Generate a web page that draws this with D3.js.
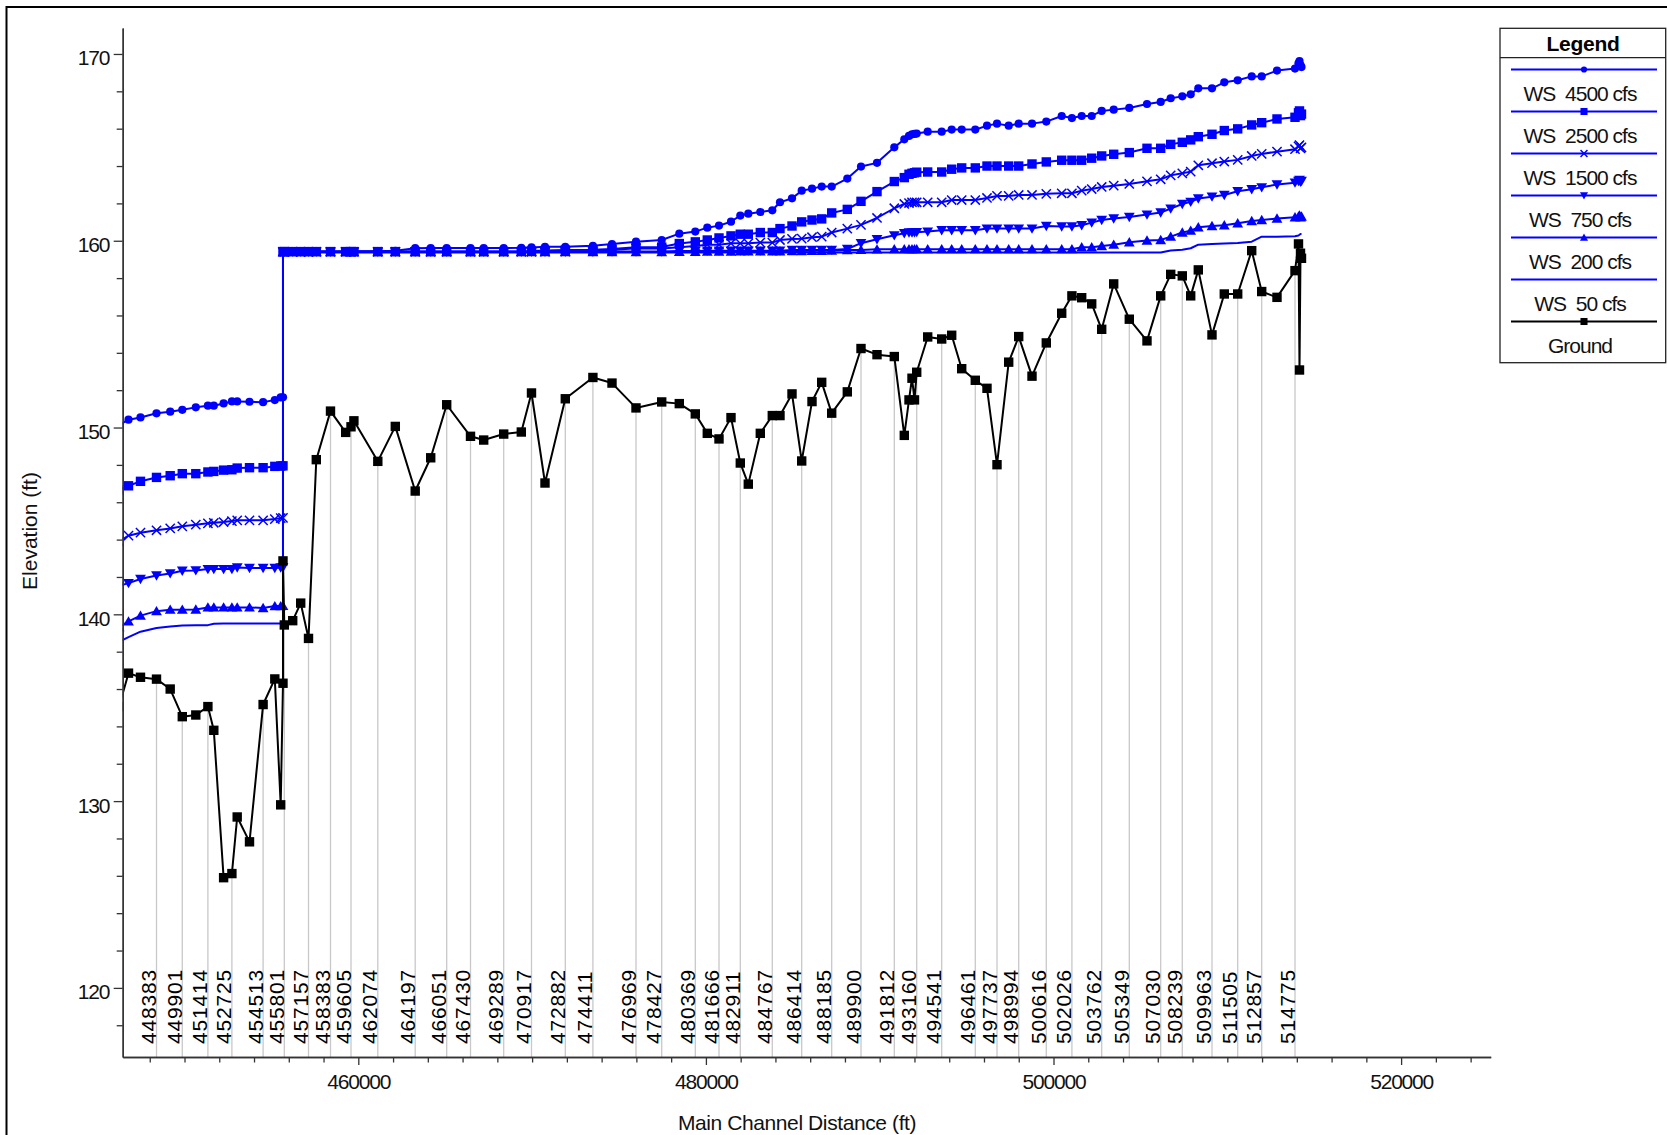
<!DOCTYPE html>
<html><head><meta charset="utf-8">
<script src="https://cdn.jsdelivr.net/npm/d3@7"></script>
<style>
html,body{margin:0;padding:0;background:#fff;overflow:hidden;}
svg{display:block;font-family:"Liberation Sans",Arial,sans-serif;}
</style></head><body>
<svg id="chart" width="1667" height="1135"></svg>
<script>
// ---- DATA ----
const stationDist = [446237, 446778, 447468, 448389, 449177, 449873, 450650, 451346, 451686, 452250,
 452727, 453032, 453740, 454523, 455196, 455535, 455667, 455667, 455742, 456226,
 456686, 457135, 457583, 458400, 459275, 459580, 459747, 461122, 462129, 463274,
 464166, 465086, 466456, 467215, 468366, 469379, 469965, 470742, 471910, 473498,
 474597, 475978, 477457, 478469, 479390, 480080, 480754, 481444, 481979, 482439,
 483130, 483820, 484263, 484954, 485512, 486105, 486663, 487238, 488136, 488924,
 489845, 490840, 491415, 491686, 491858, 492002, 492129, 492761, 493567, 494142,
 494718, 495500, 496173, 496749, 497422, 497998, 498763, 499585, 500472, 501059,
 501622, 502198, 502773, 503464, 504361, 505379, 506168, 506743, 507410, 507894,
 508331, 509119, 509827, 510598, 511404, 511979, 512859, 513895, 514096, 514154,
 514212, 514269];

const stationLabels = ["", "", "", "448383", "", "449901", "", "451414", "", "",
 "452725", "", "", "454513", "", "", "", "", "455801", "",
 "", "457157", "", "458383", "", "459605", "", "462074", "", "464197",
 "", "466051", "467430", "", "469289", "", "470917", "", "472882", "474411",
 "", "476969", "478427", "", "480369", "", "481666", "", "482911", "",
 "", "484767", "", "", "486414", "", "", "488185", "", "489900",
 "", "491812", "", "", "", "", "493160", "", "494541", "",
 "", "496461", "", "497737", "", "498994", "", "500616", "", "502026",
 "", "", "503762", "", "505349", "", "507030", "", "508239", "",
 "", "509963", "", "511505", "", "512857", "", "514775", "", "",
 "", ""];

const ground = [135.07, 136.85, 136.63, 136.53, 136.00, 134.52, 134.61, 135.06, 133.79, 125.90,
 126.12, 129.15, 127.82, 135.17, 136.54, 129.80, 136.31, 142.86, 139.43, 139.66,
 140.60, 138.71, 148.28, 150.88, 149.74, 150.04, 150.36, 148.19, 150.06, 146.60,
 148.38, 151.22, 149.53, 149.33, 149.65, 149.76, 151.85, 147.03, 151.54, 152.68,
 152.38, 151.05, 151.37, 151.28, 150.73, 149.69, 149.39, 150.53, 148.10, 146.97,
 149.69, 150.64, 150.64, 151.80, 148.21, 151.39, 152.42, 150.77, 151.91, 154.23,
 153.90, 153.80, 149.58, 151.48, 152.64, 151.48, 152.96, 154.85, 154.74, 154.94,
 153.15, 152.53, 152.10, 148.01, 153.50, 154.87, 152.75, 154.53, 156.12, 157.05,
 156.95, 156.62, 155.26, 157.69, 155.80, 154.64, 157.05, 158.20, 158.12, 157.05,
 158.44, 154.96, 157.15, 157.15, 159.47, 157.28, 156.97, 158.40, 159.83, 153.08,
 159.33, 159.06];

const ws4500 = [150.13, 150.42, 150.54, 150.76, 150.85, 150.95, 151.08, 151.17, 151.17, 151.29,
 151.40, 151.40, 151.38, 151.36, 151.47, 151.61, 151.62, 159.42, 159.42, 159.42,
 159.42, 159.42, 159.42, 159.42, 159.43, 159.44, 159.44, 159.44, 159.46, 159.60,
 159.61, 159.61, 159.61, 159.61, 159.61, 159.62, 159.64, 159.68, 159.68, 159.73,
 159.82, 159.95, 160.04, 160.38, 160.49, 160.70, 160.81, 161.02, 161.35, 161.45,
 161.54, 161.63, 162.06, 162.27, 162.68, 162.79, 162.90, 162.90, 163.33, 163.97,
 164.17, 165.00, 165.43, 165.61, 165.70, 165.72, 165.74, 165.84, 165.84, 165.95,
 165.95, 165.95, 166.16, 166.27, 166.16, 166.27, 166.27, 166.38, 166.68, 166.57,
 166.68, 166.68, 166.95, 167.02, 167.11, 167.32, 167.43, 167.63, 167.73, 167.84,
 168.16, 168.16, 168.48, 168.59, 168.80, 168.80, 169.11, 169.22, 169.50, 169.62,
 169.40, 169.30];

const ws2500 = [146.66, 146.88, 147.12, 147.33, 147.42, 147.53, 147.53, 147.62, 147.65, 147.72,
 147.74, 147.83, 147.85, 147.85, 147.92, 147.94, 147.95, 159.42, 159.42, 159.42,
 159.42, 159.42, 159.42, 159.42, 159.42, 159.42, 159.42, 159.42, 159.42, 159.42,
 159.42, 159.42, 159.42, 159.42, 159.42, 159.43, 159.45, 159.48, 159.50, 159.52,
 159.56, 159.65, 159.66, 159.85, 159.94, 160.04, 160.15, 160.26, 160.35, 160.35,
 160.44, 160.44, 160.65, 160.79, 161.01, 161.11, 161.17, 161.49, 161.68, 162.11,
 162.63, 163.17, 163.38, 163.56, 163.61, 163.64, 163.67, 163.68, 163.68, 163.83,
 163.90, 163.90, 164.00, 164.00, 164.00, 164.00, 164.11, 164.22, 164.31, 164.31,
 164.31, 164.42, 164.54, 164.63, 164.72, 164.95, 164.95, 165.16, 165.27, 165.40,
 165.57, 165.70, 165.90, 165.99, 166.20, 166.32, 166.52, 166.61, 166.85, 166.95,
 166.70, 166.78];

const ws1500 = [143.91, 144.21, 144.37, 144.50, 144.60, 144.71, 144.80, 144.87, 144.90, 144.94,
 144.99, 145.03, 145.03, 145.03, 145.10, 145.15, 145.16, 159.41, 159.41, 159.41,
 159.41, 159.41, 159.41, 159.41, 159.41, 159.41, 159.41, 159.41, 159.41, 159.41,
 159.41, 159.41, 159.41, 159.41, 159.41, 159.41, 159.41, 159.41, 159.42, 159.45,
 159.50, 159.60, 159.58, 159.65, 159.72, 159.79, 159.79, 159.86, 159.86, 159.86,
 159.90, 159.90, 160.04, 160.10, 160.11, 160.19, 160.22, 160.44, 160.65, 160.85,
 161.22, 161.74, 161.97, 162.02, 162.06, 162.06, 162.06, 162.06, 162.06, 162.18,
 162.18, 162.18, 162.29, 162.40, 162.40, 162.45, 162.45, 162.51, 162.54, 162.54,
 162.68, 162.77, 162.88, 162.95, 163.04, 163.18, 163.29, 163.50, 163.61, 163.70,
 164.04, 164.15, 164.24, 164.33, 164.54, 164.65, 164.77, 164.90, 165.05, 165.12,
 164.95, 165.00];

const ws750 = [141.52, 141.67, 141.89, 142.08, 142.19, 142.33, 142.35, 142.42, 142.42, 142.42,
 142.42, 142.51, 142.48, 142.48, 142.48, 142.51, 142.52, 159.41, 159.41, 159.41,
 159.41, 159.41, 159.41, 159.41, 159.41, 159.41, 159.41, 159.41, 159.41, 159.41,
 159.41, 159.41, 159.41, 159.41, 159.41, 159.41, 159.41, 159.41, 159.41, 159.41,
 159.42, 159.42, 159.42, 159.45, 159.45, 159.47, 159.47, 159.47, 159.47, 159.47,
 159.47, 159.47, 159.47, 159.51, 159.51, 159.51, 159.51, 159.51, 159.56, 159.87,
 160.08, 160.29, 160.40, 160.44, 160.44, 160.45, 160.46, 160.49, 160.56, 160.56,
 160.56, 160.56, 160.65, 160.65, 160.65, 160.65, 160.65, 160.79, 160.76, 160.76,
 160.83, 160.97, 161.11, 161.19, 161.27, 161.40, 161.51, 161.72, 161.97, 162.08,
 162.26, 162.36, 162.45, 162.65, 162.76, 162.86, 163.01, 163.11, 163.20, 163.26,
 163.15, 163.20];

const ws200 = [139.32, 139.62, 139.93, 140.17, 140.25, 140.25, 140.26, 140.37, 140.37, 140.37,
 140.37, 140.37, 140.37, 140.34, 140.44, 140.44, 140.45, 159.40, 159.40, 159.40,
 159.40, 159.40, 159.40, 159.40, 159.40, 159.40, 159.40, 159.40, 159.40, 159.40,
 159.40, 159.40, 159.40, 159.40, 159.40, 159.40, 159.40, 159.40, 159.40, 159.40,
 159.40, 159.40, 159.40, 159.41, 159.41, 159.42, 159.42, 159.42, 159.43, 159.43,
 159.43, 159.44, 159.44, 159.45, 159.45, 159.46, 159.46, 159.47, 159.50, 159.51,
 159.54, 159.55, 159.55, 159.55, 159.55, 159.55, 159.55, 159.55, 159.55, 159.55,
 159.55, 159.55, 159.55, 159.55, 159.55, 159.55, 159.55, 159.55, 159.55, 159.55,
 159.65, 159.65, 159.72, 159.79, 159.92, 160.01, 160.04, 160.22, 160.44, 160.54,
 160.72, 160.79, 160.83, 160.94, 161.06, 161.11, 161.19, 161.26, 161.30, 161.35,
 161.25, 161.30];

const ws50 = [138.52, 138.78, 139.07, 139.27, 139.35, 139.40, 139.42, 139.42, 139.50, 139.51,
 139.51, 139.51, 139.51, 139.51, 139.51, 139.51, 139.51, 159.37, 159.37, 159.37,
 159.37, 159.37, 159.37, 159.37, 159.37, 159.37, 159.37, 159.37, 159.37, 159.37,
 159.37, 159.37, 159.37, 159.37, 159.37, 159.37, 159.37, 159.37, 159.37, 159.37,
 159.37, 159.37, 159.37, 159.37, 159.37, 159.37, 159.37, 159.37, 159.37, 159.37,
 159.37, 159.37, 159.37, 159.37, 159.37, 159.37, 159.37, 159.37, 159.37, 159.37,
 159.37, 159.37, 159.37, 159.37, 159.37, 159.37, 159.37, 159.37, 159.37, 159.37,
 159.37, 159.37, 159.37, 159.37, 159.37, 159.37, 159.37, 159.37, 159.37, 159.37,
 159.37, 159.37, 159.37, 159.37, 159.37, 159.37, 159.37, 159.48, 159.52, 159.60,
 159.79, 159.82, 159.85, 159.88, 159.95, 160.22, 160.22, 160.24, 160.28, 160.32,
 160.36, 160.36];

const legendLabels = ["WS  4500 cfs", "WS  2500 cfs", "WS  1500 cfs", "WS  750 cfs", "WS  200 cfs", "WS  50 cfs", "Ground"];
const yTicksMajor = [120, 130, 140, 150, 160, 170];
const yTicksMinor = [118, 122, 124, 126, 128, 132, 134, 136, 138, 142, 144, 146, 148, 152, 154, 156, 158, 162, 164, 166, 168];
const xTicksMajor = [460000, 480000, 500000, 520000];
const xTicksMinor = [448000, 450000, 452000, 454000, 456000, 458000, 462000, 464000, 466000, 468000, 470000, 472000, 474000, 476000, 478000, 482000, 484000, 486000, 488000, 490000, 492000, 494000, 496000, 498000, 502000, 504000, 506000, 508000, 510000, 512000, 514000, 516000, 518000, 522000, 524000];
const xDomain = [446444, 525155];
const yDomain = [116.3, 171.39];

// ---- LAYOUT ----
const plot = {left: 122.7, right: 1490.7, top: 28, bottom: 1057};
const BLUE = "#0000ff";
const svg = d3.select("#chart");
const x = d3.scaleLinear().domain(xDomain).range([plot.left, plot.right]);
const y = d3.scaleLinear().domain(yDomain).range([plot.bottom, plot.top]);

// outer frame
svg.append("rect").attr("x", 6.5).attr("y", 7).attr("width", 1700).attr("height", 1200)
  .attr("fill", "none").attr("stroke", "#000").attr("stroke-width", 2);

svg.append("defs").append("clipPath").attr("id", "clip").append("rect")
  .attr("x", plot.left).attr("y", plot.top - 6).attr("width", plot.right - plot.left).attr("height", plot.bottom - plot.top + 6);

const gPlot = svg.append("g").attr("clip-path", "url(#clip)");

// gray station lines and labels
stationDist.forEach((d, i) => {
  if (!stationLabels[i]) return;
  gPlot.append("line").attr("x1", x(d)).attr("x2", x(d))
    .attr("y1", y(ground[i])).attr("y2", plot.bottom)
    .attr("stroke", "#c8c8c8").attr("stroke-width", 1.3);
});
stationDist.forEach((d, i) => {
  if (!stationLabels[i]) return;
  svg.append("text").attr("transform", `translate(${x(d) - 0.5},1044) rotate(-90)`)
    .attr("text-anchor", "start").attr("font-size", 21).attr("letter-spacing", "0.8px")
    .attr("fill", "#000").text(stationLabels[i]);
});

// marker painters
function marker(g, type, cx, cy, color, s) {
  s = s || 1;
  if (type === "circle") g.append("circle").attr("cx", cx).attr("cy", cy).attr("r", 4.1 * s).attr("fill", color);
  else if (type === "square") g.append("rect").attr("x", cx - 4.7 * s).attr("y", cy - 4.7 * s).attr("width", 9.4 * s).attr("height", 9.4 * s).attr("fill", color);
  else if (type === "x") g.append("path").attr("d", `M${cx-4.6*s},${cy-4.6*s}L${cx+4.6*s},${cy+4.6*s}M${cx-4.6*s},${cy+4.6*s}L${cx+4.6*s},${cy-4.6*s}`).attr("stroke", color).attr("stroke-width", 1.5).attr("fill", "none");
  else if (type === "tdown") g.append("path").attr("d", `M${cx-5.4*s},${cy-4.2*s}L${cx+5.4*s},${cy-4.2*s}L${cx},${cy+5.2*s}Z`).attr("fill", color);
  else if (type === "tup") g.append("path").attr("d", `M${cx-5.4*s},${cy+4.2*s}L${cx+5.4*s},${cy+4.2*s}L${cx},${cy-5.2*s}Z`).attr("fill", color);
}

const series = [
  {vals: ws50, marker: null, color: BLUE},
  {vals: ws200, marker: "tup", color: BLUE},
  {vals: ws750, marker: "tdown", color: BLUE},
  {vals: ws1500, marker: "x", color: BLUE},
  {vals: ws2500, marker: "square", color: BLUE},
  {vals: ws4500, marker: "circle", color: BLUE},
  {vals: ground, marker: "square", color: "#000"}
];
const line = d3.line().x(d => x(d[0])).y(d => y(d[1]));
series.forEach(s => {
  const pts = stationDist.map((d, i) => [d, s.vals[i]]);
  gPlot.append("path").attr("d", line(pts)).attr("fill", "none")
    .attr("stroke", s.color).attr("stroke-width", 2).attr("stroke-linejoin", "round");
  if (s.marker) pts.forEach(p => marker(gPlot, s.marker, x(p[0]), y(p[1]), s.color));
});

// axes
const axisColor = "#333";
const yAxis = svg.append("g").attr("transform", `translate(${plot.left},0)`)
  .call(d3.axisLeft(y).tickValues(yTicksMajor).tickSize(9).tickPadding(4.5).tickSizeOuter(0).tickFormat(d3.format("d")));
svg.append("g").attr("transform", `translate(${plot.left},0)`)
  .call(d3.axisLeft(y).tickValues(yTicksMinor).tickSize(6).tickSizeOuter(0).tickFormat(""));
const xAxis = svg.append("g").attr("transform", `translate(0,${plot.bottom})`)
  .call(d3.axisBottom(x).tickValues(xTicksMajor).tickSize(8).tickPadding(9).tickSizeOuter(0).tickFormat(d3.format("d")));
svg.append("g").attr("transform", `translate(0,${plot.bottom})`)
  .call(d3.axisBottom(x).tickValues(xTicksMinor).tickSize(5.5).tickSizeOuter(0).tickFormat(""));
svg.selectAll(".domain").attr("stroke", axisColor).attr("stroke-width", 1.4);
svg.selectAll(".tick line").attr("stroke", axisColor).attr("stroke-width", 1.3);
svg.selectAll(".tick text").attr("font-size", 21).attr("fill", "#111")
  .attr("font-family", "'Liberation Sans', Arial, sans-serif").attr("letter-spacing", "-1.2px");
yAxis.selectAll(".tick text").attr("dy", "0.52em");

// axis titles
svg.append("text").attr("transform", "translate(37,531) rotate(-90)").attr("text-anchor", "middle")
  .attr("font-size", 21).attr("fill", "#111").text("Elevation (ft)");
svg.append("text").attr("x", 797).attr("y", 1130).attr("text-anchor", "middle")
  .attr("font-size", 21).attr("letter-spacing", "-0.4px").attr("fill", "#111").text("Main Channel Distance (ft)");

// legend
const lg = svg.append("g");
lg.append("rect").attr("x", 1500).attr("y", 28.3).attr("width", 165.7).attr("height", 334.4)
  .attr("fill", "#fff").attr("stroke", "#222").attr("stroke-width", 1.3);
lg.append("line").attr("x1", 1500).attr("x2", 1665.7).attr("y1", 57.7).attr("y2", 57.7).attr("stroke", "#222").attr("stroke-width", 1.3);
lg.append("text").attr("x", 1583).attr("y", 50.5).attr("text-anchor", "middle").attr("font-size", 21)
  .attr("font-weight", "bold").attr("letter-spacing", "-0.3px").text("Legend");
const legendMarkers = ["circle", "square", "x", "tdown", "tup", null, "square"];
const legendColors = [BLUE, BLUE, BLUE, BLUE, BLUE, BLUE, "#000"];
legendLabels.forEach((lab, i) => {
  const ly = 69.5 + 42 * i;
  lg.append("line").attr("x1", 1511).attr("x2", 1657).attr("y1", ly).attr("y2", ly)
    .attr("stroke", legendColors[i]).attr("stroke-width", 2);
  if (legendMarkers[i]) marker(lg, legendMarkers[i], 1584, ly, legendColors[i], 0.75);
  lg.append("text").attr("x", 1580).attr("y", ly + 31).attr("text-anchor", "middle")
    .attr("font-size", 21).attr("letter-spacing", "-1px").attr("fill", "#111")
    .attr("xml:space", "preserve").style("white-space", "pre").text(lab);
});
</script>
</body></html>
